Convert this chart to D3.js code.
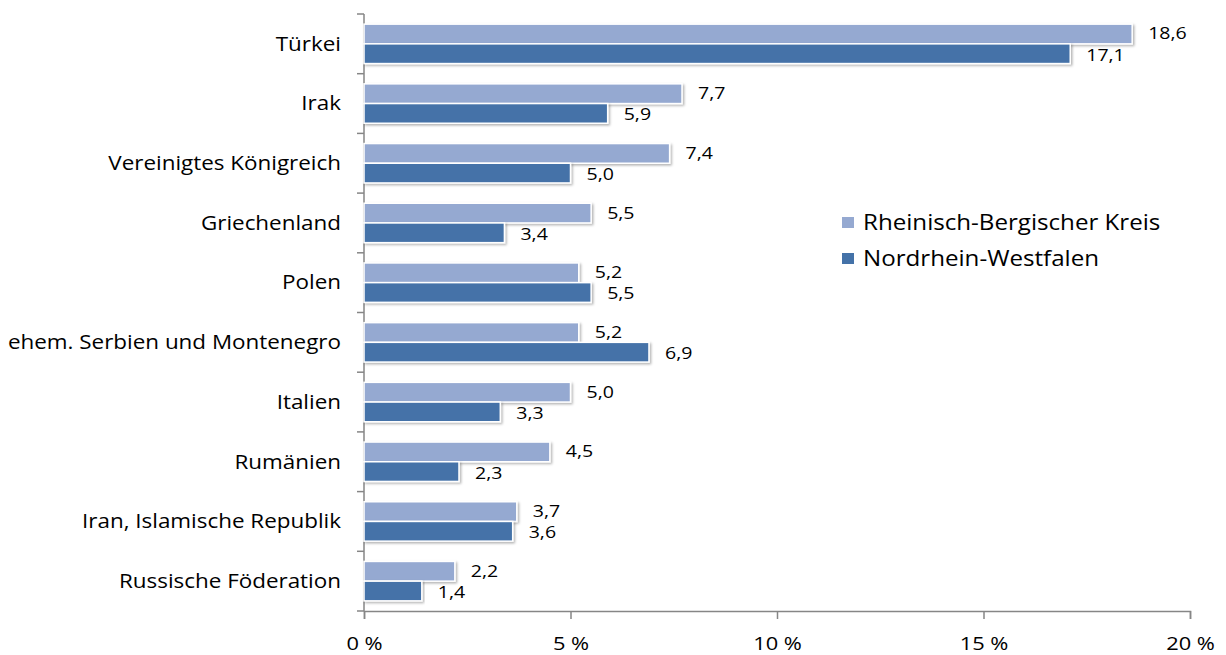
<!DOCTYPE html>
<html>
<head>
<meta charset="utf-8">
<script src="https://cdn.jsdelivr.net/npm/d3@7"></script>
<style>
  body { margin: 0; background: #fff; }
  text { font-family: "Open Sans", "Noto Sans", sans-serif; fill: #000; }
</style>
</head>
<body>
<div id="content"></div>
<script>
const categories = ['Türkei', 'Irak', 'Vereinigtes Königreich', 'Griechenland', 'Polen',
    'ehem. Serbien und Montenegro', 'Italien', 'Rumänien', 'Iran, Islamische Republik', 'Russische Föderation'];
const seriesNames = ['Rheinisch-Bergischer Kreis', 'Nordrhein-Westfalen'];
const rbkValues = [18.6, 7.7, 7.4, 5.5, 5.2, 5.2, 5.0, 4.5, 3.7, 2.2];
const nrwValues = [17.1, 5.9, 5.0, 3.4, 5.5, 6.9, 3.3, 2.3, 3.6, 1.4];
const xTicks = [0, 5, 10, 15, 20];

const width = 1226;
const height = 655;
const colors = ['#95a9d1', '#4472a8'];
const stretch = 1.15; // text in the reference is a bit wider than Open Sans

const fig = d3.select('#content')
    .append('svg')
    .attr('width', width)
    .attr('height', height);

const defs = fig.append('defs');
defs.append('filter')
    .attr('id', 'shadow')
    .attr('x', '-5%').attr('y', '-20%')
    .attr('width', '110%').attr('height', '160%')
    .append('feDropShadow')
    .attr('dx', 1.5).attr('dy', 1.5)
    .attr('stdDeviation', 1.2)
    .attr('flood-color', '#000')
    .attr('flood-opacity', 0.3);

const x = d3.scaleLinear().domain([0, 20]).range([364, 1190]);
const y = d3.scaleBand().domain(categories).range([14, 611]).paddingInner(0.34).paddingOuter(0.17);
const ySub = d3.scaleBand().domain([0, 1]).range([0, y.bandwidth()]);

// axes
const xAxis = fig.append('g')
    .attr('transform', 'translate(0,611)')
    .call(d3.axisBottom(x).tickValues(xTicks).tickSize(8).tickPadding(18)
        .tickFormat(d => d + ' %'));
xAxis.selectAll('text')
    .style('font-size', '19px')
    .attr('transform', `scale(${stretch},1)`);

const yAxisScale = d3.scaleBand().domain(categories).range([14, 611]);
const yAxis = fig.append('g')
    .attr('transform', 'translate(364,0)');
yAxis.append('line')
    .attr('x1', 0).attr('x2', 0)
    .attr('y1', 14).attr('y2', 611);
yAxis.selectAll('.tk')
    .data(categories.concat(['end']))
    .join('line')
    .attr('class', 'tk')
    .attr('x1', -7).attr('x2', 0)
    .attr('y1', (d, i) => 14 + i * yAxisScale.step())
    .attr('y2', (d, i) => 14 + i * yAxisScale.step());
yAxis.selectAll('text')
    .data(categories)
    .join('text')
    .attr('transform', d => `translate(-23,${yAxisScale(d) + yAxisScale.bandwidth() / 2}) scale(${stretch},1)`)
    .attr('dy', '0.35em')
    .attr('text-anchor', 'end')
    .style('font-size', '19.5px')
    .text(d => d);

fig.selectAll('.domain, .tick line, line')
    .attr('stroke', '#868686')
    .attr('stroke-width', 1.5);

// bars
const rows = categories.map((c, i) => ({ cat: c, vals: [rbkValues[i], nrwValues[i]] }));
const groups = fig.append('g')
    .selectAll('g')
    .data(rows)
    .join('g')
    .attr('transform', d => `translate(0,${y(d.cat)})`);

groups.selectAll('rect')
    .data(d => d.vals.map((v, k) => ({ v, k })))
    .join('rect')
    .attr('x', x(0))
    .attr('y', d => ySub(d.k))
    .attr('width', d => x(d.v) - x(0))
    .attr('height', ySub.bandwidth())
    .attr('fill', d => colors[d.k])
    .attr('stroke', '#fff')
    .attr('stroke-width', 1.5)
    .attr('filter', 'url(#shadow)');

groups.selectAll('text')
    .data(d => d.vals.map((v, k) => ({ v, k })))
    .join('text')
    .attr('transform', d => `translate(${x(d.v) + 16},${ySub(d.k) + ySub.bandwidth() / 2 + (d.k === 0 ? -0.5 : 1)}) scale(${stretch},1)`)
    .attr('dy', '0.35em')
    .style('font-size', '17px')
    .text(d => d3.format('.1f')(d.v).replace('.', ','));

// legend
const legend = fig.append('g')
    .attr('transform', 'translate(842,217)');
const li = legend.selectAll('g')
    .data(seriesNames)
    .join('g')
    .attr('transform', (d, i) => `translate(0,${i * 36})`);
li.append('rect')
    .attr('width', 12).attr('height', 11)
    .attr('fill', (d, i) => colors[i]);
li.append('text')
    .attr('transform', `translate(21,5.5) scale(${stretch},1)`)
    .attr('dy', '0.35em')
    .style('font-size', '21px')
    .text(d => d);
</script>
</body>
</html>
